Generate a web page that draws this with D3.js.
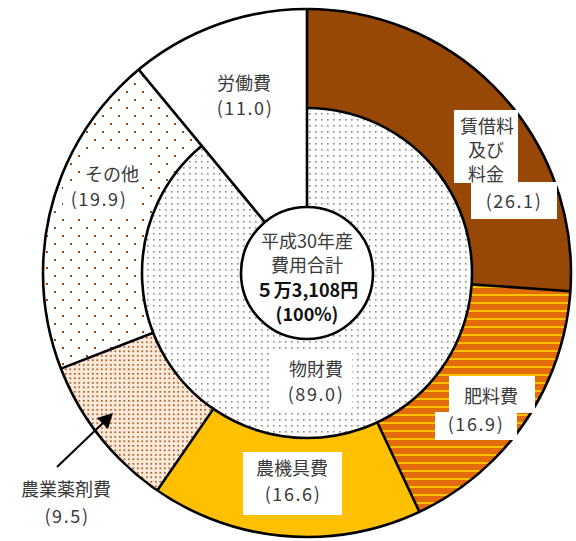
<!DOCTYPE html>
<html>
<head>
<meta charset="utf-8">
<script src="https://cdn.jsdelivr.net/npm/d3@7"></script>
<style>
  body { margin: 0; background: #fff; }
  text { font-family: "Noto Sans CJK JP", "Noto Sans", sans-serif; fill: #3a3a3a; font-size: 18px; }
  text.num { letter-spacing: 1.6px; }
</style>
</head>
<body>
<svg id="chart" width="576" height="541"></svg>
<script>
// 費用構成 (平成30年産) - outer ring by item, inner ring by group

var outerNames  = ["賃借料及び料金", "肥料費", "農機具費", "農業薬剤費", "その他", "労働費"];
var outerValues = [26.1, 16.9, 16.6, 9.5, 19.9, 11.0];
var innerNames  = ["物財費", "労働費"];
var innerValues = [89.0, 11.0];
var centerLines = ["平成30年産", "費用合計", "５万3,108円", "(100%)"];

var cx = 307, cy = 273
  , rCenter = 66, rMid = 165, rOuter = 264
  , lineW = 2.6
  ;

var svg = d3.select("#chart");
var defs = svg.append("defs");

// patterns
function pattern (id, w, h) {
  return defs.append("pattern").attr("id", id).attr("patternUnits", "userSpaceOnUse")
             .attr("width", w).attr("height", h);
}
var p = pattern("fert", 8, 8);
p.append("rect").attr("width", 8).attr("height", 8).attr("fill", "#E36C09");
p.append("rect").attr("y", 5).attr("width", 8).attr("height", 2).attr("fill", "#FFC000");

p = pattern("chem", 4.5, 4.5);
p.append("rect").attr("width", 4.5).attr("height", 4.5).attr("fill", "#FDE9D9");
p.append("rect").attr("x", 1).attr("y", 1).attr("width", 1.6).attr("height", 1.6).attr("fill", "#974706");

p = pattern("other", 16, 16);
p.append("rect").attr("width", 16).attr("height", 16).attr("fill", "#fff");
p.append("rect").attr("x", 3).attr("y", 2).attr("width", 2).attr("height", 2).attr("fill", "#974706");
p.append("rect").attr("x", 11).attr("y", 10).attr("width", 2).attr("height", 2).attr("fill", "#974706");

p = pattern("goods", 6, 6);
p.append("rect").attr("width", 6).attr("height", 6).attr("fill", "#fff");
p.append("rect").attr("x", 2).attr("y", 2).attr("width", 1.6).attr("height", 1.6).attr("fill", "#8a8a8a");

var outerFills = ["#974706", "url(#fert)", "#FFC000", "url(#chem)", "url(#other)", "#ffffff"];
var innerFills = ["url(#goods)", "#ffffff"];

var pie = d3.pie().sort(null).value(function (d) { return d; });
var outerArcs = pie(outerValues);
var innerArcs = pie(innerValues);

var g = svg.append("g").attr("transform", "translate(" + cx + "," + cy + ")");

// inner ring
g.selectAll(".inner").data(innerArcs).enter().append("path")
 .attr("class", "inner")
 .attr("d", d3.arc().innerRadius(rCenter).outerRadius(rMid + 1))
 .attr("fill", function (d, i) { return innerFills[i]; });

// outer ring
g.selectAll(".outer").data(outerArcs).enter().append("path")
 .attr("class", "outer")
 .attr("d", d3.arc().innerRadius(rMid).outerRadius(rOuter))
 .attr("fill", function (d, i) { return outerFills[i]; });

// ring boundary only under 物財費 (労働費 is one wedge across both rings)
g.append("path")
 .attr("d", d3.arc().innerRadius(rMid).outerRadius(rMid)(innerArcs[0]))
 .attr("fill", "none").attr("stroke", "#000").attr("stroke-width", lineW);

// outer circle
g.append("circle").attr("r", rOuter).attr("fill", "none").attr("stroke", "#000").attr("stroke-width", lineW);

// separators
function radial (a, r0, r1) {
  g.append("line")
   .attr("x1", r0 * Math.sin(a)).attr("y1", -r0 * Math.cos(a))
   .attr("x2", r1 * Math.sin(a)).attr("y2", -r1 * Math.cos(a))
   .attr("stroke", "#000").attr("stroke-width", lineW);
}
innerArcs.forEach(function (d) { radial(d.startAngle, rCenter, rOuter); });
outerArcs.forEach(function (d, i) {
  if (i > 0 && i < outerArcs.length - 1) radial(d.startAngle, rMid, rOuter);
});

// center disc
g.append("circle").attr("r", rCenter).attr("fill", "#fff").attr("stroke", "#000").attr("stroke-width", lineW);

// label layout: white boxes and text lines (absolute page coords)
function box (x0, y0, x1, y1) {
  svg.append("rect").attr("x", x0).attr("y", y0).attr("width", x1 - x0).attr("height", y1 - y0).attr("fill", "#fff");
}
function txt (x, y, s, bold, cls) {
  svg.append("text").attr("x", x).attr("y", y)
     .attr("class", cls || null)
     .attr("text-anchor", "middle").attr("dominant-baseline", "central")
     .style("font-weight", bold ? "bold" : "normal")
     .style("fill", bold ? "#111" : null)
     .text(s);
}
function pct (x, y, v) { txt(x, y, "(" + v.toFixed(1) + ")", false, "num"); }

// 賃借料及び料金
box(454, 110, 518, 183); box(471, 182, 557, 219);
txt(487, 125, outerNames[0].slice(0, 3));
txt(486, 149, outerNames[0].slice(3, 5));
txt(486, 173, outerNames[0].slice(5));
pct(514, 200, outerValues[0]);

// 肥料費
box(449, 376, 535, 413); box(435, 412, 517, 440);
txt(491, 395, outerNames[1]);
pct(476, 423, outerValues[1]);

// 農機具費
box(243, 452, 342, 515);
txt(292, 467, outerNames[2]);
pct(293, 493, outerValues[2]);

// 農業薬剤費 (outside, with arrow)
txt(66, 488, outerNames[3]);
pct(67, 515, outerValues[3]);
svg.append("line").attr("x1", 57).attr("y1", 467).attr("x2", 104).attr("y2", 422)
   .attr("stroke", "#000").attr("stroke-width", 2);
svg.append("path").attr("d", "M113,413 L97,418 L108,429 Z").attr("fill", "#000");

// その他
box(80, 155, 146, 187); box(63, 185, 136, 213);
txt(112, 173, outerNames[4]);
pct(99, 198, outerValues[4]);

// 労働費
txt(244, 82, outerNames[5]);
pct(245, 107, outerValues[5]);

// 物財費
box(270, 350, 352, 412);
txt(316, 368, innerNames[0]);
pct(316, 393, innerValues[0]);

// center
txt(cx, 240, centerLines[0]);
txt(cx, 264, centerLines[1]);
txt(cx, 289, centerLines[2], true);
txt(cx, 313, centerLines[3], true);
</script>
</body>
</html>
